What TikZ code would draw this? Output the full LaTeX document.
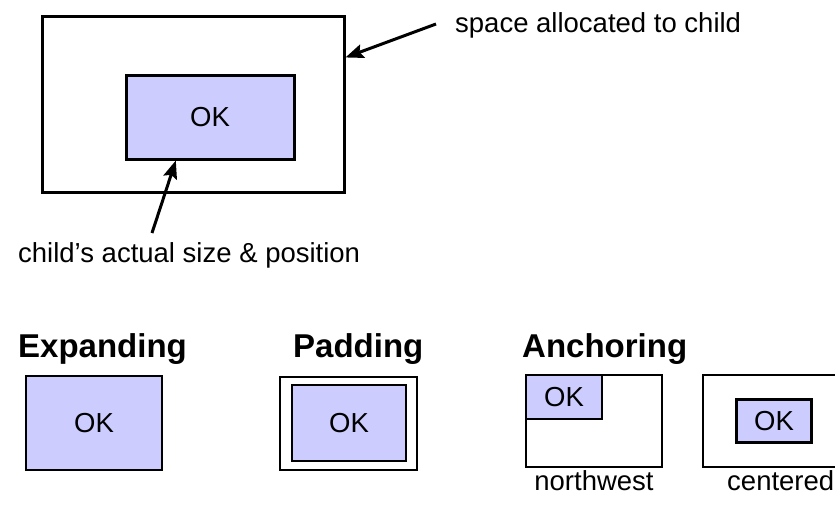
\documentclass[tikz,border=0pt]{standalone}
\usepackage{fontspec}
\setmainfont{Liberation Sans}
\usetikzlibrary{arrows.meta,calc}
\definecolor{okfill}{HTML}{CCCCFF}
\begin{document}
\begin{tikzpicture}[x=1pt,y=-1pt,
  box/.style={draw=black,line width=3pt,inner sep=0pt,anchor=center},
  okbox/.style={box,fill=okfill,font=\fontsize{27.5}{30}\selectfont},
  lbl/.style={inner sep=0pt,font=\fontsize{27.5}{30}\selectfont},
  ttl/.style={inner sep=0pt,anchor=base west,font=\fontsize{33}{36}\selectfont\bfseries},
  arr/.style={line width=3pt,-{Stealth[length=18pt,width=14pt,inset=3pt]}}]
\useasboundingbox (0,0) rectangle (835,504);
\clip (0,0) rectangle (835,504);
% top diagram
\node[box,minimum width=302pt,minimum height=176pt] (outer) at (193,104) {};
\node[okbox,minimum width=168pt,minimum height=84pt] (inner) at (210,117) {OK};
\node[lbl,anchor=base west] (lspace) at (455,32) {space allocated to child};
\node[lbl,anchor=base west] (lchild) at (18,262) {child’s actual size \& position};
\coordinate (s1) at (436,24);
\coordinate (e1) at ($(outer.north east)!0.24!(outer.south east)$);
\draw[arr] (s1) -- (e1);
\coordinate (s2) at (152,233);
\coordinate (e2) at ($(inner.south west)!0.30!(inner.south east)$);
\draw[arr] (s2) -- (e2);
% titles
\node[ttl] (texp) at (18,357) {Expanding};
\node[ttl] (tpad) at (293,357) {Padding};
\node[ttl] (tanc) at (522,357) {Anchoring};
% expanding
\node[okbox,line width=2.7pt,minimum width=136pt,minimum height=94pt] (exp) at (94,423) {OK};
% padding
\node[box,line width=2.7pt,minimum width=137pt,minimum height=93pt] (padout) at (348.5,423.5) {};
\node[okbox,line width=2.7pt,minimum width=114pt,minimum height=76pt] (padin) at (349,423) {OK};
% northwest
\node[box,line width=2.7pt,minimum width=136pt,minimum height=92pt] (nwout) at (594,421) {};
\node[okbox,line width=2.7pt,minimum width=76pt,minimum height=44pt,anchor=north west] (nwin) at (nwout.north west) {OK};
\node[lbl,anchor=base] (lnw) at (594,490) {northwest};
% centered
\node[box,line width=2.7pt,minimum width=142pt,minimum height=92pt] (cout) at (774,421) {};
\node[okbox,line width=2.7pt,minimum width=75pt,minimum height=43pt] (cin) at (cout.center) {OK};
\node[lbl,anchor=base west] (lc) at (727,490) {centered};
\end{tikzpicture}
\end{document}
